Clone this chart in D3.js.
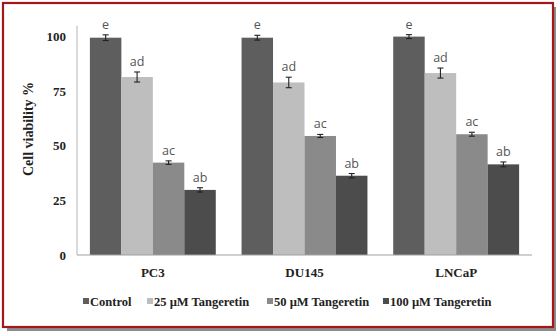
<!DOCTYPE html>
<html><head><meta charset="utf-8">
<script src="https://cdn.jsdelivr.net/npm/d3@7"></script>
<style>body{margin:0;background:#fff}svg{display:block}</style>
</head><body>
<script>
const categories = ["PC3", "DU145", "LNCaP"];
const seriesNames = ["Control", "25 µM Tangeretin", "50 µM Tangeretin", "100 µM Tangeretin"];
const control = [99.5, 99.5, 100];
const t25 = [81.5, 79, 83.3];
const t50 = [42.3, 54.5, 55.3];
const t100 = [29.8, 36.3, 41.5];
const errControl = [1.3, 1.1, 0.9];
const errT25 = [2.3, 2.4, 2.3];
const errT50 = [0.8, 0.7, 0.9];
const errT100 = [1.0, 1.0, 1.1];
const letters = [["e", "e", "e"], ["ad", "ad", "ad"], ["ac", "ac", "ac"], ["ab", "ab", "ab"]];
const yTicks = [0, 25, 50, 75, 100];
const colors = ["#5e5e5e", "#bebebe", "#8a8a8a", "#4c4c4c"];

const values = [control, t25, t50, t100];
const errs = [errControl, errT25, errT50, errT100];

const W = 557, H = 333;
const svg = d3.select("body").append("svg").attr("width", W).attr("height", H);

// frame shadow & border
svg.append("rect").attr("x", 7).attr("y", 7).attr("width", 549).attr("height", 324).attr("fill", "#8c8c8c");
svg.append("rect").attr("x", 3).attr("y", 3).attr("width", 550).attr("height", 324)
  .attr("fill", "#fff").attr("stroke", "#a01818").attr("stroke-width", 2.2);

const x0 = d3.scaleBand().domain(categories).range([77, 532]).paddingInner(0.17).paddingOuter(0.085);
const x1 = d3.scaleBand().domain(d3.range(4)).range([0, x0.bandwidth()]).padding(0);
const y = d3.scaleLinear().domain([0, 100]).range([255, 36.6]);

// y axis line
svg.append("line").attr("x1", 77).attr("x2", 77).attr("y1", y(105)).attr("y2", y(0))
  .attr("stroke", "#b5b5b5").attr("stroke-width", 1);

const yAxis = d3.axisLeft(y).tickValues(yTicks).tickSize(0).tickPadding(11);
const ya = svg.append("g").attr("transform", "translate(77,0)").call(yAxis);
ya.select(".domain").remove();
ya.selectAll("text").attr("font-family", "Liberation Serif").attr("font-weight", "bold")
  .attr("font-size", 13).attr("fill", "#222");

// bars
const g = svg.append("g");
categories.forEach((c, ci) => {
  values.forEach((arr, si) => {
    const v = arr[ci], e = errs[si][ci];
    const bx = x0(c) + x1(si), bw = x1.bandwidth();
    g.append("rect").attr("x", bx).attr("y", y(v)).attr("width", bw).attr("height", y(0) - y(v))
      .attr("fill", colors[si]);
    const cx = bx + bw / 2;
    const eb = g.append("g").attr("stroke", "#222").attr("stroke-width", 1.1);
    eb.append("line").attr("x1", cx).attr("x2", cx).attr("y1", y(v + e)).attr("y2", y(v - e));
    eb.append("line").attr("x1", cx - 3).attr("x2", cx + 3).attr("y1", y(v + e)).attr("y2", y(v + e));
    eb.append("line").attr("x1", cx - 3).attr("x2", cx + 3).attr("y1", y(v - e)).attr("y2", y(v - e));
    g.append("text").attr("x", cx).attr("y", y(v + e) - 6).attr("text-anchor", "middle")
      .attr("font-family", "Open Sans").attr("font-size", 12.5).attr("fill", "#555")
      .text(letters[si][ci]);
  });
});

// x baseline
svg.append("line").attr("x1", 77).attr("x2", 532).attr("y1", 255).attr("y2", 255)
  .attr("stroke", "#a0a0a0").attr("stroke-width", 1);

const xAxis = d3.axisBottom(x0).tickSize(0).tickPadding(13);
const xa = svg.append("g").attr("transform", "translate(0,255)").call(xAxis);
xa.select(".domain").remove();
xa.selectAll("text").attr("font-family", "Liberation Serif").attr("font-weight", "bold")
  .attr("font-size", 13).attr("fill", "#222");

// y title
svg.append("text").attr("transform", "translate(33,129) rotate(-90)").attr("text-anchor", "middle")
  .attr("font-family", "Liberation Serif").attr("font-weight", "bold").attr("font-size", 14)
  .attr("fill", "#222").text("Cell viability %");

// legend
const legX = [83, 147, 267, 383];
const leg = svg.append("g");
seriesNames.forEach((n, i) => {
  leg.append("rect").attr("x", legX[i]).attr("y", 298).attr("width", 6).attr("height", 6).attr("fill", colors[i]);
  leg.append("text").attr("x", legX[i] + 7).attr("y", 305.5)
    .attr("font-family", "Liberation Serif").attr("font-weight", "bold").attr("font-size", 12.5)
    .attr("fill", "#222").text(n);
});
</script>
</body></html>
